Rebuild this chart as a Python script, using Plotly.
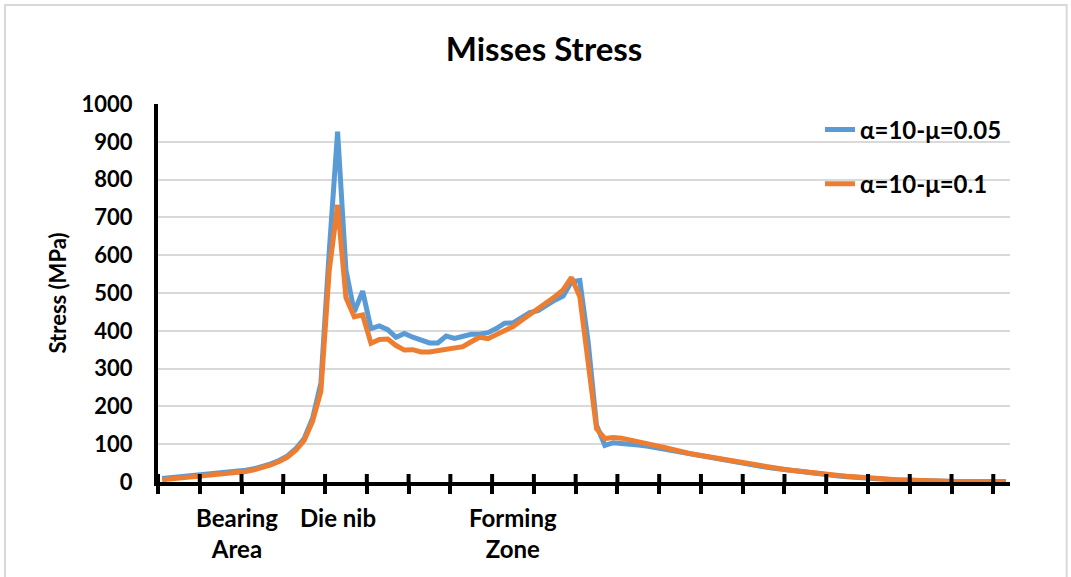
import plotly.graph_objects as go

# Node index along the die profile (category positions)
node = list(range(102))

# Von Mises stress (MPa) for each friction case
stress_mu005 = [
    9, 11, 13, 15, 17, 19, 21, 23, 25, 28,
    31, 35, 41, 48, 57, 69, 88, 115, 168, 262,
    610, 927, 561, 450, 505, 406, 413, 403, 383, 393,
    383, 375, 368, 368, 386, 380, 384, 391, 391, 395,
    406, 420, 421, 433, 448, 453, 468, 481, 492, 530,
    533, 370, 150, 97, 104, 103, 101, 98, 95, 91,
    87, 82, 78, 73, 69, 65, 62, 58, 54, 51,
    47, 44, 40, 37, 34, 31, 28, 25, 22, 20,
    18, 16, 14, 12, 11, 9.5, 8, 6.5, 5.5, 4.5,
    3.5, 3, 2.5, 2, 1.5, 1.5, 1, 1, 1, 1,
    1, 1,
]
stress_mu01 = [
    6, 8, 10, 12, 14, 16, 18, 20, 22, 25,
    28, 32, 38, 45, 54, 66, 84, 110, 160, 240,
    560, 733, 488, 437, 442, 367, 377, 378, 361, 349,
    350, 344, 344, 347, 351, 353, 358, 371, 383, 379,
    389, 400, 411, 427, 442, 457, 474, 490, 508, 541,
    490, 310, 141, 115, 118, 116, 112, 107, 102, 97,
    92, 86, 81, 76, 72, 68, 64, 60, 56, 52,
    48, 45, 41, 38, 35, 32, 29, 26, 23, 21,
    19, 17, 15, 13, 11.5, 10, 8.5, 7, 6, 5,
    4, 3.5, 3, 2.5, 2, 1.5, 1.5, 1, 1, 1,
    1, 1,
]

series_names = ["α=10-μ=0.05", "α=10-μ=0.1"]
series_colors = ["#5B9BD5", "#ED7D31"]

# Zone labels placed under the category axis
zone_nodes = [9, 21, 42]
zone_labels = ["Bearing<br>Area", "Die nib", "Forming<br>Zone"]

y_ticks = list(range(0, 1001, 100))
x_ticks = [k - 0.5 for k in range(0, 102, 5)]

FONT = "Lato, 'Open Sans', sans-serif"

fig = go.Figure()
for k, (vals, name, color) in enumerate(zip([stress_mu005, stress_mu01],
                                            series_names, series_colors)):
    fig.add_trace(go.Scatter(
        x=node, y=vals, mode="lines", name=name, legendgroup=f"g{k}",
        line=dict(color=color, width=5, shape="linear"),
    ))

annotations = []
for xn, lab in zip(zone_nodes, zone_labels):
    annotations.append(dict(
        x=xn, xref="x", y=-0.05, yref="paper", yanchor="top",
        text="<b>" + lab + "</b>", showarrow=False, align="center",
        font=dict(family=FONT, size=24, color="#000000"),
    ))

# upper half of the cross-style tick marks on the category axis
tick_up = 8 / 377.7
shapes = [dict(type="line", xref="x", yref="paper", x0=t, x1=t, y0=0, y1=tick_up,
               line=dict(color="#000000", width=4), layer="above")
          for t in x_ticks]
# light frame around the chart area
shapes.append(dict(type="rect", xref="paper", yref="paper",
                   x0=-0.1796, x1=1.0665, y0=-0.27, y1=1.262,
                   line=dict(color="#D9D9D9", width=2), layer="below"))

fig.update_layout(
    width=1071, height=577,
    margin=dict(l=158, r=61, t=104, b=95),
    paper_bgcolor="#FFFFFF", plot_bgcolor="#FFFFFF",
    title=dict(text="<b>Misses Stress</b>", x=0.508, xanchor="center",
               y=0.915, yanchor="middle",
               font=dict(family=FONT, size=33, color="#000000")),
    showlegend=True,
    legend=dict(x=0.777, y=0.991, xanchor="left", yanchor="top",
                bgcolor="rgba(0,0,0,0)", tracegroupgap=20,
                font=dict(family=FONT, size=24, color="#000000", weight="bold")),
    xaxis=dict(range=[-0.5, 101.5], showgrid=False, zeroline=False,
               showline=True, linecolor="#000000", linewidth=4,
               tickmode="array", tickvals=x_ticks, showticklabels=False,
               ticks="outside", ticklen=8, tickwidth=4, tickcolor="#000000"),
    yaxis=dict(range=[0, 1000], tickmode="array", tickvals=y_ticks,
               showgrid=True, gridcolor="#D9D9D9", gridwidth=2,
               zeroline=False, showline=True, linecolor="#000000", linewidth=4,
               ticks="", ticklabelstandoff=17,
               tickfont=dict(family=FONT, size=22, color="#000000", weight="bold"),
               title=dict(text="<b>Stress (MPa)</b>", standoff=10,
                          font=dict(family=FONT, size=22, color="#000000"))),
    annotations=annotations,
    shapes=shapes,
)

fig.write_html("out.html")
